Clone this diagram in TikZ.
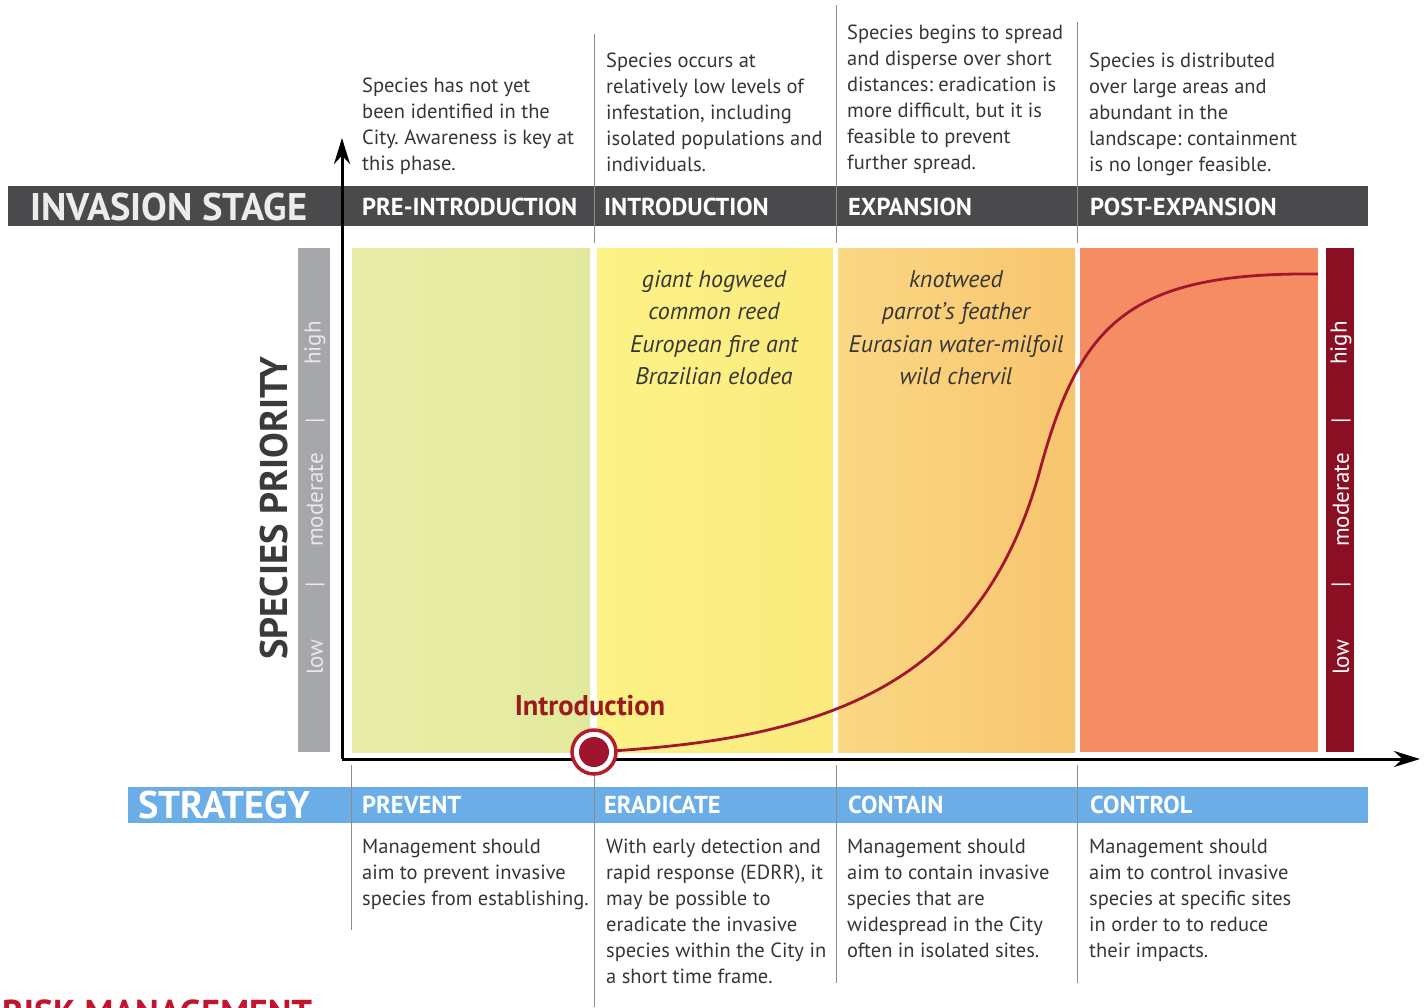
\documentclass[tikz,border=0pt]{standalone}
\usepackage{fontspec}
\setmainfont{PT Sans}
\frenchspacing
\usetikzlibrary{arrows.meta}
\definecolor{stagegray}{HTML}{4A4A4C}
\definecolor{stratblue}{HTML}{6BADE6}
\definecolor{priogray}{HTML}{A6A7AA}
\definecolor{priotext}{HTML}{E8E8EA}
\definecolor{priored}{HTML}{8A0F22}
\definecolor{curvered}{HTML}{A3172E}
\definecolor{ringred}{HTML}{B51C2E}
\definecolor{dotred}{HTML}{A0142E}
\definecolor{labelred}{HTML}{9A1B1E}
\definecolor{riskred}{HTML}{C0152F}
\definecolor{desctext}{HTML}{363636}
\definecolor{headtext}{HTML}{3A3A3C}
\definecolor{stagewhite}{HTML}{ECECEC}
\definecolor{sepgray}{HTML}{8C8C8C}
\definecolor{preleft}{HTML}{E8EEA8}
\definecolor{preright}{HTML}{E3E99C}
\definecolor{introleft}{HTML}{FCF286}
\definecolor{introright}{HTML}{FBEA7E}
\definecolor{expleft}{HTML}{FBD884}
\definecolor{expright}{HTML}{F8C46F}
\definecolor{postfill}{HTML}{F68C63}
\begin{document}
\begin{tikzpicture}[x=1pt,y=-1pt,
  descbox/.style={anchor=north west,inner sep=0pt,align=left,text=desctext,font={\fontsize{20.5}{26}\selectfont}},
  stagehead/.style={anchor=west,inner sep=0pt,text=white,font={\fontsize{24.5}{24}\selectfont\bfseries}},
  bighead/.style={anchor=west,inner sep=0pt,font={\fontsize{38.5}{38}\selectfont\bfseries}},
  species/.style={anchor=north,inner sep=0pt,align=center,text=desctext,font={\fontsize{24}{32.5}\selectfont\itshape}},
  priolabel/.style={rotate=90,inner sep=0pt,font={\fontsize{23}{23}\selectfont}},
  sepline/.style={draw=sepgray,line width=0.8pt},
  axis/.style={line width=3pt,-{Stealth[length=26pt,width=16pt]}}]
\useasboundingbox (0,0) rectangle (1424,1007);
% colour fields of the four stages
\shade[left color=preleft,right color=preright] (352,248) rectangle (590,752);
\shade[left color=introleft,right color=introright] (597,248) rectangle (833,752);
\shade[left color=expleft,right color=expright] (838,248) rectangle (1075,752);
\fill[postfill] (1080,248) rectangle (1318,752);
% priority bars
\fill[priogray] (298,248) rectangle (330,752);
\fill[priored] (1326,248) rectangle (1354,752);
\foreach \y/\t in {657/low,585/|,500/moderate,421/|,343/high} {
  \node[priolabel,text=priotext] at (315,\y) {\t};
  \node[priolabel,text=white] at (1341,\y) {\t};
}
\node[rotate=90,inner sep=0pt,text=headtext,font={\fontsize{38.5}{38}\selectfont\bfseries}] (prio) at (274,508) {SPECIES PRIORITY};
% stage bar
\fill[stagegray] (8,186) rectangle (1368,226);
\node[bighead,text=stagewhite] (stage) at (30,207) {INVASION STAGE};
\node[stagehead] (pre) at (362,207) {PRE-INTRODUCTION};
\node[stagehead] (intr) at (604,207) {INTRODUCTION};
\node[stagehead] (exp) at (848,207) {EXPANSION};
\node[stagehead] (post) at (1090,207) {POST-EXPANSION};
% strategy bar
\fill[stratblue] (128,787) rectangle (1368,823);
\node[bighead,text=white] (strat) at (138,805) {STRATEGY};
\node[stagehead] (prevent) at (362,805) {PREVENT};
\node[stagehead] (eradicate) at (604,805) {ERADICATE};
\node[stagehead] (contain) at (848,805) {CONTAIN};
\node[stagehead] (control) at (1090,805) {CONTROL};
% separators
\draw[sepline] (594,34) -- (594,243);
\draw[sepline] (836,5) -- (836,243);
\draw[sepline] (1077,22) -- (1077,243);
\draw[sepline] (351,765) -- (351,930);
\draw[sepline] (594,765) -- (594,1007);
\draw[sepline] (836,765) -- (836,983);
\draw[sepline] (1077,765) -- (1077,983);
% stage descriptions
\node[descbox] (d1) at (362,78) {Species has not yet\\been identified in the\\City. Awareness is key at\\this phase.};
\node[descbox] (d2) at (606,53) {Species occurs at\\relatively low levels of\\infestation, including\\isolated populations and\\individuals.};
\node[descbox] (d3) at (847,25) {Species begins to spread\\and disperse over short\\distances: eradication is\\more difficult, but it is\\feasible to prevent\\further spread.};
\node[descbox] (d4) at (1089,53) {Species is distributed\\over large areas and\\abundant in the\\landscape: containment\\is no longer feasible.};
% species lists
\node[species] (s2) at (714,270) {giant hogweed\\common reed\\European fire ant\\Brazilian elodea};
\node[species] (s3) at (956,270) {knotweed\\parrot’s feather\\Eurasian water-milfoil\\wild chervil};
% axes
\coordinate (origin) at (342,759);
\coordinate (ytip) at (342,138);
\coordinate (xtip) at (1420,759);
\draw[axis] (origin) -- (ytip);
\draw[axis] (origin) -- (xtip);
% invasion curve
\coordinate (bend) at (1040,470);
\coordinate (flat) at (1318,274);
\draw[curvered,line width=2.8pt] (594,752) .. controls (820,740) and (980,690) .. (bend)
  .. controls (1080,322) and (1130,272) .. (flat);
\node[circle,draw=ringred,line width=3.5pt,fill=white,minimum size=44pt,inner sep=0pt] (intro) at (594,752) {};
\node[circle,fill=dotred,minimum size=30pt,inner sep=0pt] (dot) at (intro) {};
\node[inner sep=0pt,text=labelred,font={\fontsize{28.5}{28}\selectfont\bfseries}] (introlabel) at (590,706) {Introduction};
% strategy descriptions
\node[descbox] (m1) at (362,839) {Management should\\aim to prevent invasive\\species from establishing.};
\node[descbox] (m2) at (606,839) {With early detection and\\rapid response (EDRR), it\\may be possible to\\eradicate the invasive\\species within the City in\\a short time frame.};
\node[descbox] (m3) at (847,839) {Management should\\aim to contain invasive\\species that are\\widespread in the City\\often in isolated sites.};
\node[descbox] (m4) at (1089,839) {Management should\\aim to control invasive\\species at specific sites\\in order to to reduce\\their impacts.};
% cut-off heading below
\begin{scope}
\clip (0,0) rectangle (1424,1007);
\node[anchor=north west,inner sep=0pt,text=riskred,font={\fontsize{36}{36}\selectfont\bfseries}] (risk) at (2,1000) {RISK MANAGEMENT};
\end{scope}
\end{tikzpicture}
\end{document}
